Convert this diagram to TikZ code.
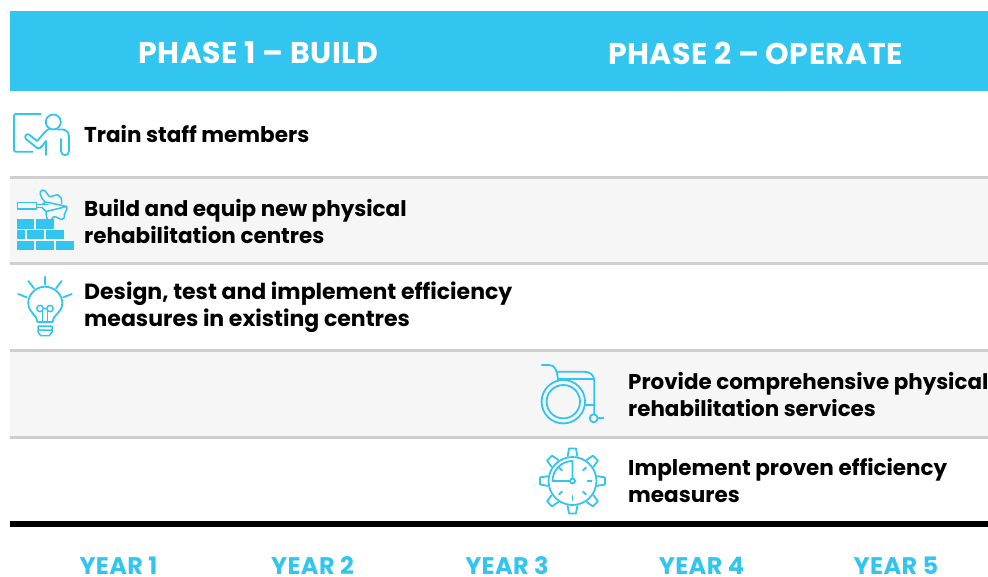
\documentclass[tikz,border=0pt]{standalone}
\usepackage{fontspec}
\setmainfont{Poppins}
\definecolor{sky}{HTML}{32C5F0}
\definecolor{rowgrey}{HTML}{F6F6F6}
\definecolor{rule}{HTML}{CFCFCF}
\begin{document}
\begin{tikzpicture}[x=1pt,y=-1pt,
  head/.style={text=white,font=\fontsize{30}{34}\selectfont\bfseries\addfontfeature{LetterSpace=1.5},anchor=center,inner sep=0},
  lab/.style={text=black,font=\fontsize{21.5}{27}\selectfont\bfseries,anchor=west,align=left,inner sep=0},
  labw/.style={lab,font=\fontsize{22}{27}\selectfont\bfseries},
  yr/.style={text=sky,font=\fontsize{24}{26}\selectfont\bfseries\addfontfeature{LetterSpace=1.5},anchor=center,inner sep=0},
  ico/.style={draw=sky,line width=1.8pt,line cap=round,line join=round,fill=none},
  thin/.style={draw=sky,line width=1.5pt,line cap=round,line join=round,fill=none},
  brick/.style={fill=sky,draw=none}]
\useasboundingbox (0,0) rectangle (988,576);
\fill[white] (0,0) rectangle (988,576);
\fill[sky] (10,11) rectangle (988,91);
\fill[rowgrey] (10,179) rectangle (988,262);
\fill[rowgrey] (10,352) rectangle (988,436);
\foreach \y in {177.5,263.5,350.5,437.5}{\draw[rule,line width=3.5pt] (10,\y) -- (988,\y);}
\draw[black,line width=6pt] (10,524) -- (988,524);
\node[head] (p1) at (258.5,53) {PHASE 1 – BUILD};
\node[head] (p2) at (755.5,53) {PHASE 2 – OPERATE};
\node[lab] (t1) at (84,134) {Train staff members};
\node[lab] (t2) at (84,221) {Build and equip new physical\\rehabilitation centres};
\node[labw] (t3) at (84,307.5) {Design, test and implement efficiency\\measures in existing centres};
\node[lab,font=\fontsize{21.4}{27}\selectfont\bfseries] (t4) at (628,395) {Provide comprehensive physical\\rehabilitation services};
\node[lab] (t5) at (628,480) {Implement proven efficiency\\measures};
\node[yr] (y1) at (118.5,566) {YEAR 1};
\node[yr] (y2) at (312.5,566) {YEAR 2};
\node[yr] (y3) at (507,566) {YEAR 3};
\node[yr] (y4) at (701.5,566) {YEAR 4};
\node[yr] (y5) at (896,566) {YEAR 5};
% trainer icon
\draw[ico] (40.7,114) -- (16,114) .. controls (14.5,114) and (14,114.5) .. (14,116) -- (14,150) .. controls (14,151.2) and (14.5,151.7) .. (16,151.7) -- (32.7,151.7);
\draw[ico] (53.3,122) circle (7.5);
\draw[ico] (49,129) -- (46,131) -- (37,141) -- (29,134.5) .. controls (26,133) and (24,137) .. (26,139) -- (37,148) .. controls (39,149) and (41,148) .. (42,146) -- (46,141) -- (46,155);
\draw[ico] (58,129.5) -- (63,129.5) .. controls (67,130) and (69,133) .. (69,136) -- (69,151) .. controls (69,156.5) and (61,156.5) .. (61,151) -- (61,139);
% bricks icon
\foreach \a/\b/\c/\d in {17/218.5/34.3/228.5,36/218.5/54/228.5,17/230/25/239,26.7/230/44/239,46/230/64/239,17/240.7/34.3/250,36/240.7/54/250,55.7/240.7/74/250}{\fill[brick] (\a,\b) rectangle (\c,\d);}
\draw[thin] (17.5,202.5) rectangle (36.7,209);
\draw[thin] (36.7,204.5) -- (48,204.5) (36.7,207.5) -- (42,207.5);
\draw[thin] (42,204.5) -- (46,202) -- (66.7,206.5) -- (46,211.5) -- (42,207.5);
\draw[thin] (45,202) .. controls (40,197) and (38.5,191) .. (42.5,190) .. controls (46,189.5) and (48,196.5) .. (50,196.7) .. controls (53,197) and (56,194) .. (58,195) .. controls (61,196) and (62,199) .. (61.7,203.5) (66.7,206.5) .. controls (67.5,210) and (65,212) .. (64.5,214) .. controls (64,217) and (65,219.5) .. (62,219.5) .. controls (59,219.5) and (56,215.5) .. (53.5,217) .. controls (51,218.5) and (51,221.5) .. (49.5,221) .. controls (47,220) and (46,216) .. (46,211.5);
% bulb icon
\draw[ico] (37.5,322) .. controls (37.5,315) and (28.3,313) .. (28.3,303) .. controls (28.3,294) and (36,286.7) .. (45,286.7) .. controls (54,286.7) and (62.3,294) .. (62.3,303) .. controls (62.3,313) and (52.5,315) .. (52.5,322) -- cycle;
\draw[thin] (40,308.5) circle (3.2) (50,308.5) circle (3.2) (43.2,308.5) -- (46.8,308.5);
\draw[thin] (42.3,311) -- (42.3,322) (47.7,311) -- (47.7,322);
\draw[thin] (38,326) -- (52,326) (38,330) -- (52,330) (40.5,335.5) -- (49.5,335.5) (38,326) -- (38,332) -- (40.5,335.5) (52,326) -- (52,332) -- (49.5,335.5);
\draw[ico] (45,276.7) -- (45,284.5) (28.3,281) -- (34,288.3) (61.7,281) -- (56,288.3) (18.3,294) -- (26.7,297.3) (71.7,294) -- (63.3,297.3);
% wheelchair icon
\draw[ico] (541.7,365) -- (549,365) .. controls (555,365) and (557,370) .. (558,380);
\draw[ico] (556.7,371.7) -- (584,371.7) .. controls (590,371.7) and (594.3,375) .. (594.3,381) -- (594.3,414);
\draw[ico] (558,379.3) -- (594.3,379.3);
\draw[ico] (563.3,401.7) circle (21.7);
\draw[ico] (563.3,401.7) circle (16.7);
\draw[ico] (585,405) -- (594.3,405);
\draw[ico] (593.7,418.3) circle (4);
\draw[ico] (598,418.3) -- (603.3,418.3);
% gear clock icon
\coordinate (c) at (572.5,481);
\draw[ico] (c) circle (24);
\draw[ico] (570,481) -- (552.5,481) .. controls (552.5,470) and (561.5,461) .. (572.5,461) -- (572.5,478.5);
\draw[ico] (c) circle (2.5);
\foreach \a in {45,135,225,315,270,0}{\draw[ico] (c) ++(-\a:15) -- ++(-\a:4);}
\foreach \a in {0,45,...,315}{
  \begin{scope}[shift={(c)},rotate=\a]
  \draw[ico] (25,-4.8) -- (32.5,-3.5) -- (32.5,3.5) -- (25,4.8);
  \end{scope}}
\end{tikzpicture}
\end{document}
